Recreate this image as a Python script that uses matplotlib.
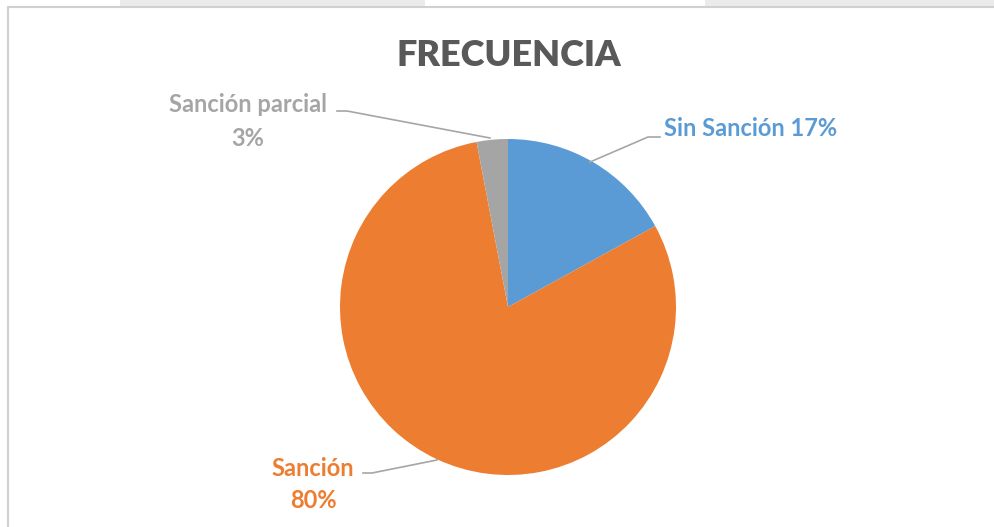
import matplotlib
matplotlib.use("Agg")
import matplotlib.pyplot as plt
from matplotlib.patches import Rectangle

categories = ["Sin Sanción", "Sanción", "Sanción parcial"]
values = [17, 80, 3]
colors = ["#5B9BD5", "#ED7D31", "#A5A5A5"]
title = "FRECUENCIA"

W, H = 995, 527
fig = plt.figure(figsize=(W / 100, H / 100), dpi=100)
ax = fig.add_axes([0, 0, 1, 1])
ax.set_xlim(0, W)
ax.set_ylim(0, H)
ax.set_aspect("equal")
ax.axis("off")

# chart frame and background strips
for x0, x1 in [(120, 425), (705, 995)]:
    ax.add_patch(Rectangle((x0, H - 6), x1 - x0, 6, color="#EBEBEB", lw=0, zorder=0))
ax.add_patch(Rectangle((8, -5), W + 10, H - 6 + 5 - 1, fill=False, ec="#D0D0D0", lw=1.5, zorder=0))

cx, cy, r = 508, H - 307, 168
ax.pie(values, colors=colors, startangle=90, counterclock=False,
       center=(cx, cy), radius=r, frame=True,
       wedgeprops=dict(linewidth=0))
ax.set_xlim(0, W)
ax.set_ylim(0, H)
ax.axis("off")

font = "Lato"
ax.text(509, H - 55, title, ha="center", va="center", fontsize=26,
        fontweight="heavy", color="#595959", family=font)

pct = [f"{v}%" for v in values]
lc = "#A6A6A6"
fs = 17
# Sin Sanción
ax.plot([590, 648, 660], [H - 162, H - 137, H - 137], color=lc, lw=1.2)
ax.text(664, H - 129, f"{categories[0]} {pct[0]}", ha="left", va="center",
        fontsize=fs, fontweight="bold", color=colors[0], family=font)
# Sanción parcial
ax.plot([490, 347, 337], [H - 138, H - 111, H - 111], color=lc, lw=1.2)
ax.text(248, H - 105, categories[2], ha="center", va="center",
        fontsize=fs, fontweight="bold", color=colors[2], family=font)
ax.text(248, H - 138, pct[2], ha="center", va="center",
        fontsize=fs, fontweight="bold", color=colors[2], family=font)
# Sanción
ax.plot([437, 372, 363], [H - 460, H - 473, H - 473], color=lc, lw=1.2)
ax.text(313, H - 469, categories[1], ha="center", va="center",
        fontsize=fs, fontweight="bold", color=colors[1], family=font)
ax.text(313, H - 500, pct[1], ha="center", va="center",
        fontsize=fs, fontweight="bold", color=colors[1], family=font)

fig.savefig("out.png", dpi=100)
